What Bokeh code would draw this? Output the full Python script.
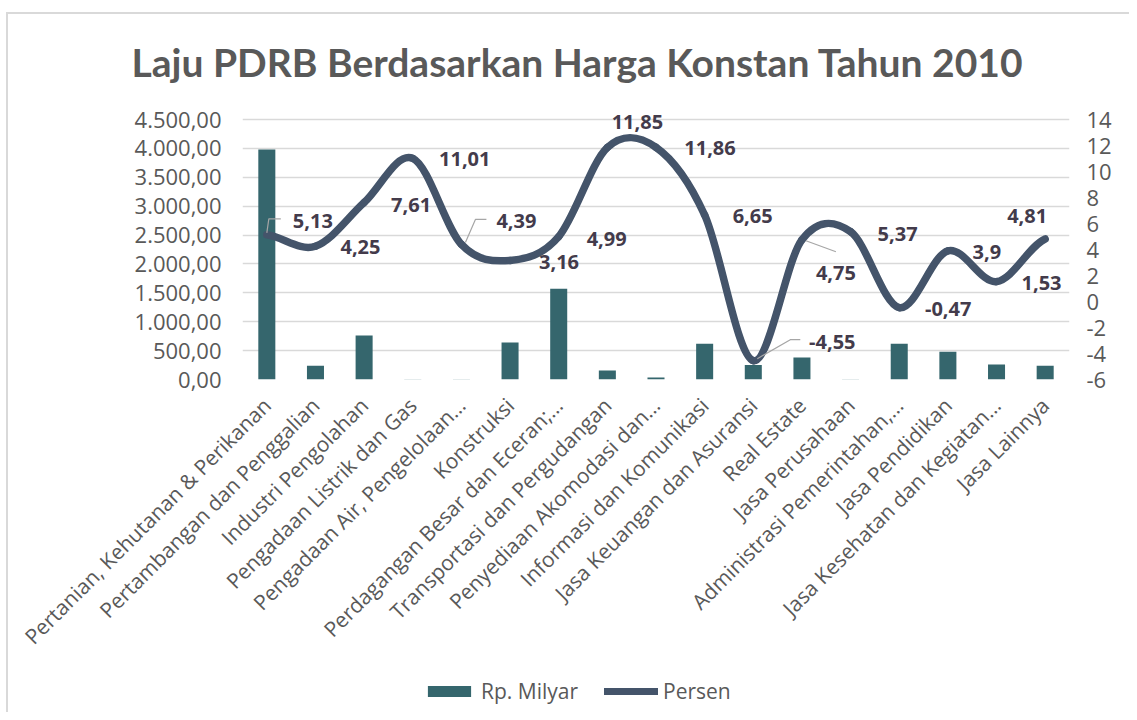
import numpy as np
from bokeh.plotting import figure
from bokeh.layouts import column
from bokeh.models import (FactorRange, Range1d, LinearAxis, FixedTicker, Legend, LegendItem,
                          LabelSet, ColumnDataSource)
from bokeh.core.properties import value
from bokeh.embed import file_html
from bokeh.resources import INLINE

# ---------------- data ----------------
categories = [
    "Pertanian, Kehutanan & Perikanan",
    "Pertambangan dan Penggalian",
    "Industri Pengolahan",
    "Pengadaan Listrik dan Gas",
    "Pengadaan Air, Pengelolaan…",
    "Konstruksi",
    "Perdagangan Besar dan Eceran;…",
    "Transportasi dan Pergudangan",
    "Penyediaan Akomodasi dan…",
    "Informasi dan Komunikasi",
    "Jasa Keuangan dan Asuransi",
    "Real Estate",
    "Jasa Perusahaan",
    "Administrasi Pemerintahan,…",
    "Jasa Pendidikan",
    "Jasa Kesehatan dan Kegiatan…",
    "Jasa Lainnya",
]
rp_milyar = [3980, 240, 760, 4, 3, 640, 1570, 155, 35, 620, 250, 380, 3, 620, 480, 260, 240]
persen = [5.13, 4.25, 7.61, 11.01, 4.39, 3.16, 4.99, 11.85, 11.86, 6.65, -4.55, 4.75, 5.37, -0.47, 3.9, 1.53, 4.81]

left_ticks = [0, 500, 1000, 1500, 2000, 2500, 3000, 3500, 4000, 4500]
left_tick_labels = ["0,00", "500,00", "1.000,00", "1.500,00", "2.000,00", "2.500,00",
                    "3.000,00", "3.500,00", "4.000,00", "4.500,00"]
right_ticks = [-6, -4, -2, 0, 2, 4, 6, 8, 10, 12, 14]
right_tick_labels = ["-6", "-4", "-2", "0", "2", "4", "6", "8", "10", "12", "14"]

title_text = "Laju PDRB Berdasarkan Harga Konstan Tahun 2010"
series_bar = "Rp. Milyar"
series_line = "Persen"

# ---------------- styling (label placement, in screen pixels) ----------------
label_dx = [46, 45, 47, 52, 55, 49, 48, 30, 54, 48, 79, 34, 47, 49, 39, 45, -18]
label_dy = [-14, 1, 2, 1, -23, 2, 2, -25, 1, 1, -19, 33, 2, 1, 1, 1, -23]  # + = down
# leader lines: index of point, list of pixel offsets (x right, y down)
leaders = [
    (0, [(0, -2), (2, -16), (14, -16)]),
    (4, [(4, -2), (14, -25), (25, -25)]),
    (10, [(4, -2), (37, -21), (47, -21)]),
    (11, [(4, 1), (34, 12)]),
]

# content origin (inside the chart-area border) is at page (8, 14)
W, H, HL = 1121, 658, 40
GRID_H = 260                          # pixels between the 0 and the top gridline
HEAD = 14                             # extra frame headroom above the top gridline
FRAME_L = 234                         # frame at page x=242
FRAME_T = 105 - HEAD                  # top gridline at page y=119
FRAME_R = W - 1061                    # frame right at page x=1069
FRAME_B = H - 365                     # frame bottom at page y=379
TXT = "#595959"
LINE_C = "#44546A"
BAR_C = "#35666D"

y_top = left_ticks[-1] * (GRID_H + HEAD) / GRID_H
p_lo, p_hi = right_ticks[0], right_ticks[-1]
p_top = p_lo + (p_hi - p_lo) * (GRID_H + HEAD) / GRID_H

p = figure(width=W, height=H, x_range=FactorRange(factors=categories),
           y_range=Range1d(0, y_top), output_backend="svg", toolbar_location=None,
           title=title_text)
p.extra_y_ranges = {"pct": Range1d(p_lo, p_top)}
p.min_border_left = FRAME_L
p.min_border_right = FRAME_R
p.min_border_top = FRAME_T
p.min_border_bottom = FRAME_B
p.outline_line_color = None
p.background_fill_color = "white"
p.border_fill_color = "white"

p.title.text_font = "Lato"
p.title.text_font_size = "39px"
p.title.text_font_style = "bold"
p.title.text_color = TXT
p.title.align = "left"
p.title.offset = -111
p.title.standoff = 42

# grid
p.xgrid.grid_line_color = None
p.ygrid.grid_line_color = "#D9D9D9"
p.ygrid.grid_line_width = 1.5
p.ygrid.ticker = FixedTicker(ticks=left_ticks)

# left axis
ya = p.yaxis[0]
ya.ticker = FixedTicker(ticks=left_ticks)
ya.major_label_overrides = dict(zip(left_ticks, left_tick_labels))
ya.axis_line_color = None
ya.major_tick_line_color = None
ya.minor_tick_line_color = None
ya.major_tick_out = 0
ya.major_tick_in = 0
ya.major_label_standoff = 21
ya.major_label_text_font = "Open Sans"
ya.major_label_text_font_size = "22px"
ya.major_label_text_color = TXT

# right axis
ra = LinearAxis(y_range_name="pct", ticker=FixedTicker(ticks=right_ticks))
ra.major_label_overrides = dict(zip(right_ticks, right_tick_labels))
ra.axis_line_color = None
ra.major_tick_line_color = None
ra.minor_tick_line_color = None
ra.major_tick_out = 0
ra.major_tick_in = 0
ra.major_label_standoff = 17
ra.major_label_text_font = "Open Sans"
ra.major_label_text_font_size = "22px"
ra.major_label_text_color = TXT
p.add_layout(ra, "right")

# x axis
xa = p.xaxis[0]
xa.axis_line_color = None
xa.major_tick_line_color = None
xa.major_tick_out = 0
xa.major_tick_in = 0
xa.major_label_orientation = np.pi / 4
xa.major_label_standoff = 22
xa.major_label_text_font = "Open Sans"
xa.major_label_text_font_size = "21px"
xa.major_label_text_color = TXT

# bars
bars = p.vbar(x=categories, top=rp_milyar, bottom=0, width=0.35,
              fill_color=BAR_C, line_color=None)

# smoothed line via cubic Bezier segments (Catmull-Rom control points)
n = len(persen)
xs = np.arange(n) + 0.5          # synthetic coordinates of the factors
ys = np.array(persen, dtype=float)
m = np.zeros(n)
m[1:-1] = (ys[2:] - ys[:-2]) / 2.0
m[0] = (ys[1] - ys[0]) / 2.0
m[-1] = (ys[-1] - ys[-2]) / 2.0
p.bezier(x0=xs[:-1], y0=ys[:-1], x1=xs[1:], y1=ys[1:],
         cx0=xs[:-1] + 1 / 3, cy0=ys[:-1] + m[:-1] / 3,
         cx1=xs[1:] - 1 / 3, cy1=ys[1:] - m[1:] / 3,
         line_color=LINE_C, line_width=7.5, line_cap="round", y_range_name="pct")

# leader lines (pixel offsets converted to data units)
px_per_cat = (W - FRAME_L - FRAME_R) / n
px_per_pct = GRID_H / (p_hi - p_lo)
lx, ly = [], []
for i, pts in leaders:
    lx.append([xs[i] + dx / px_per_cat for dx, dy in pts])
    ly.append([ys[i] - dy / px_per_pct for dx, dy in pts])
p.multi_line(xs=lx, ys=ly, line_color="#A6A6A6", line_width=1.2, y_range_name="pct")

# data labels
labels = [str(v).replace(".", ",") for v in persen]
lab_src = ColumnDataSource(dict(x=categories, y=persen, t=labels,
                                dx=label_dx, dy=[-d for d in label_dy]))
p.add_layout(LabelSet(x="x", y="y", text="t", x_offset="dx", y_offset="dy", source=lab_src,
                      y_range_name="pct", text_align="center", text_baseline="middle",
                      text_font=value("Open Sans"), text_font_style="bold",
                      text_font_size="20px", text_color="#433B4B"))

# ---------------- legend strip ----------------
pl = figure(width=W, height=HL, x_range=Range1d(0, 1), y_range=Range1d(0, 1),
            output_backend="svg", toolbar_location=None,
            x_axis_location=None, y_axis_location=None)
pl.grid.visible = False
pl.outline_line_color = None
pl.min_border = 0
pl.border_fill_color = "white"
r_bar = pl.vbar(x=[-5], top=[-4], bottom=[-5], width=0.5, fill_color=BAR_C, line_color=None)
r_line = pl.line(x=[-5, -4], y=[-5, -5], line_color=LINE_C, line_width=7, line_cap="round")
legend = Legend(items=[LegendItem(label=series_bar, renderers=[r_bar]),
                       LegendItem(label=series_line, renderers=[r_line])],
                orientation="horizontal", location=(180, 7))
legend.border_line_color = None
legend.background_fill_alpha = 0
legend.label_text_font = "Open Sans"
legend.label_text_font_size = "21px"
legend.label_text_color = TXT
legend.glyph_width = 54
legend.glyph_height = 14
legend.label_standoff = 5
legend.spacing = 26
legend.padding = 0
legend.margin = 0
pl.add_layout(legend)

layout = column(p, pl, spacing=0,
                styles={"margin-left": "6px", "margin-top": "12px",
                        "border-left": "2px solid #D9D9D9", "border-top": "2px solid #D9D9D9"})

open("out.html", "w").write(file_html(layout, INLINE))
